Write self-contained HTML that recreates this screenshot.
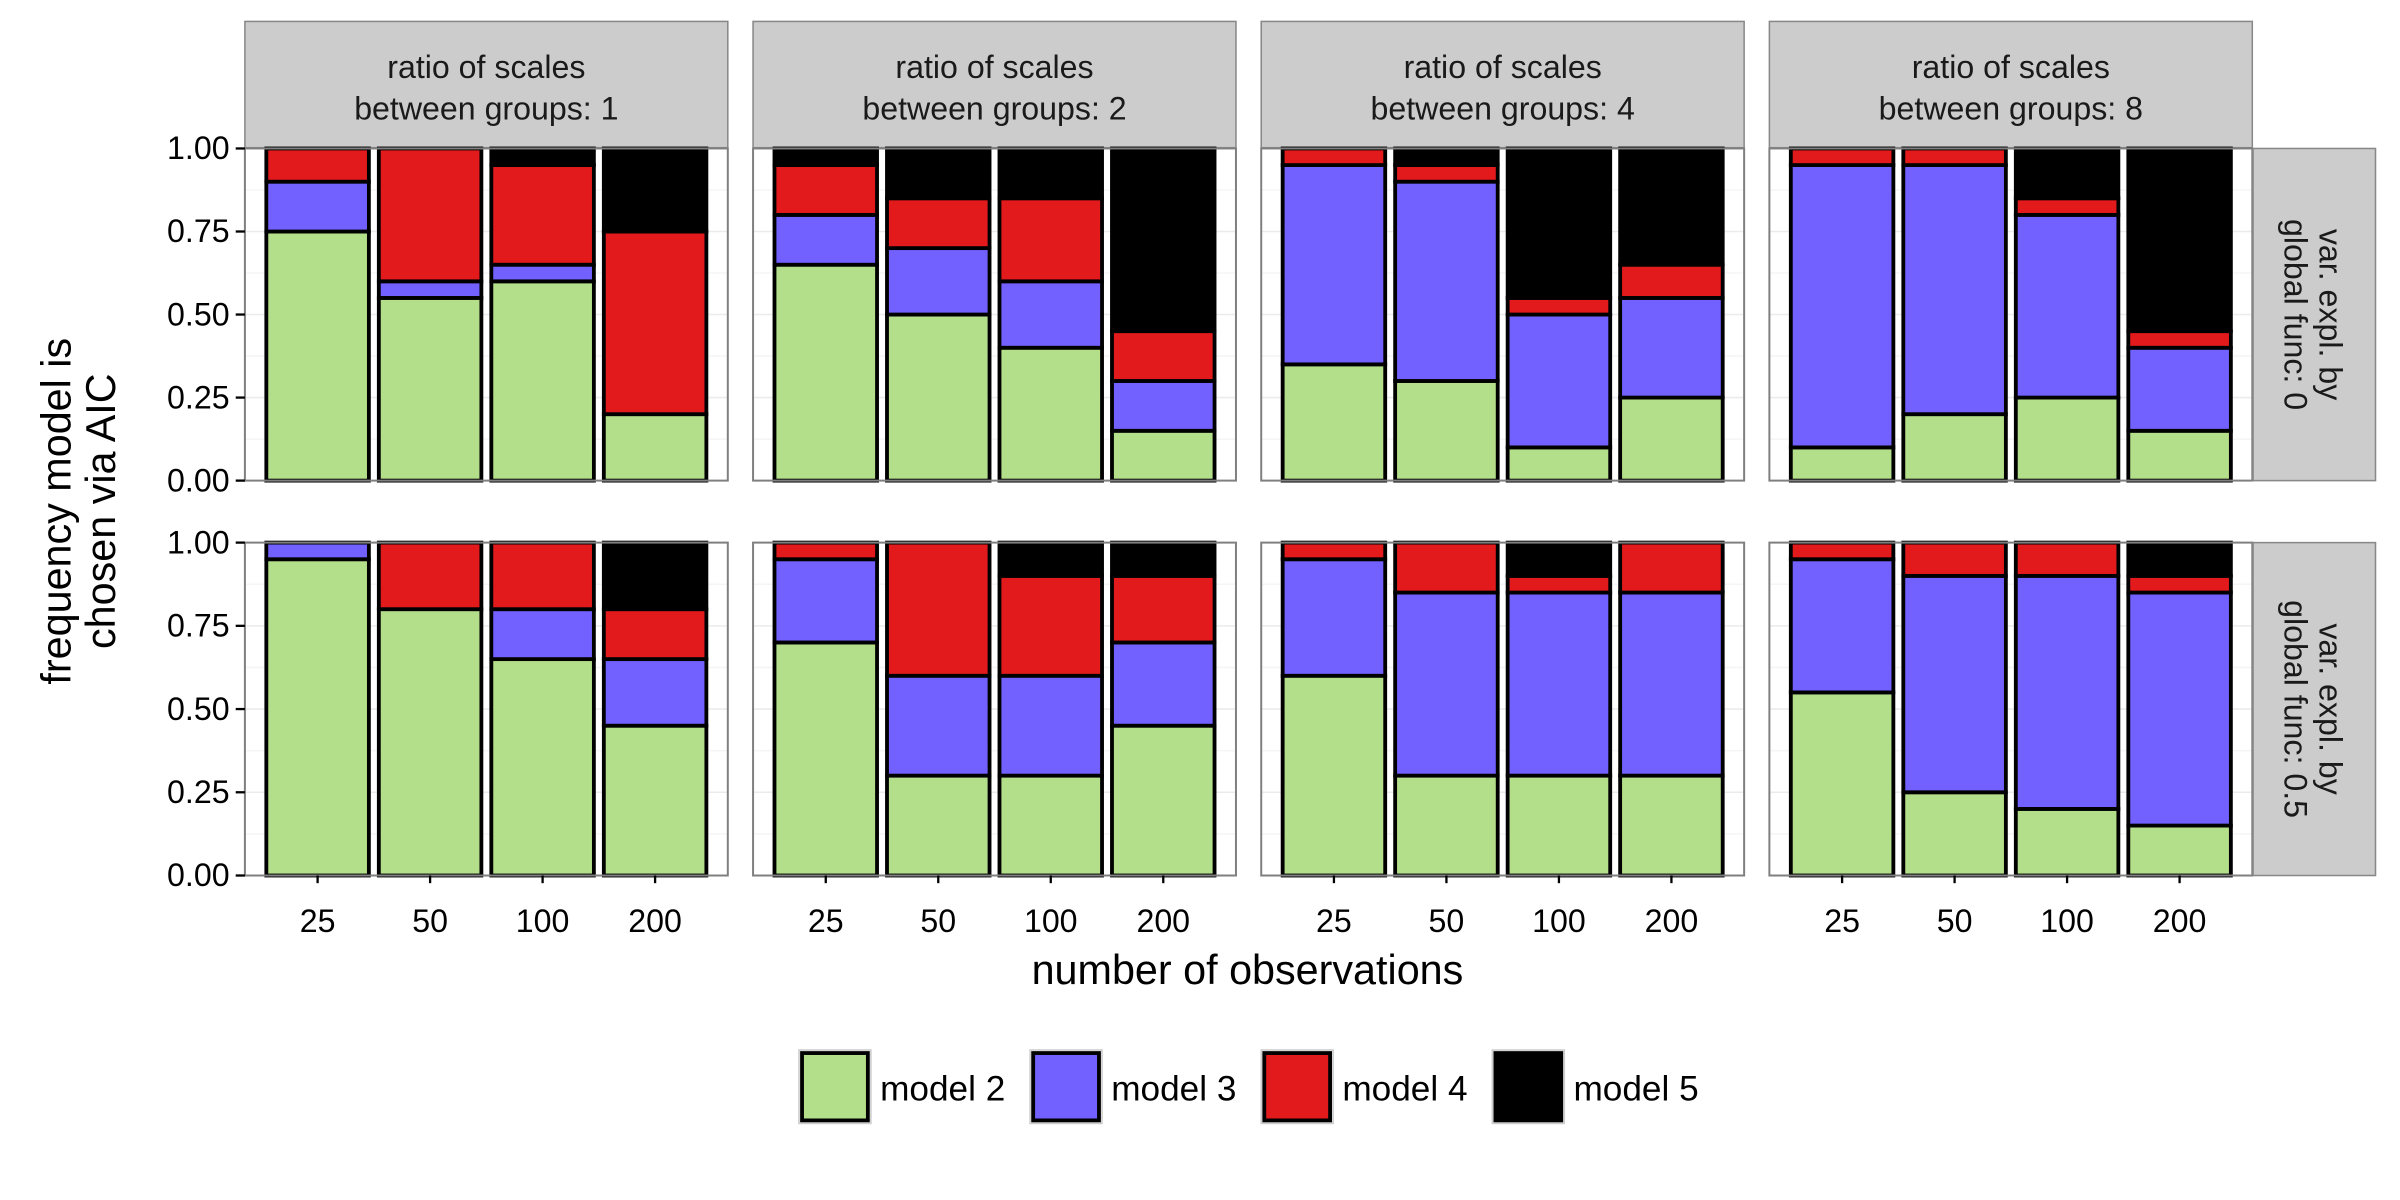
<!DOCTYPE html>
<html><head><meta charset="utf-8">
<style>html,body{margin:0;padding:0;background:#fff}svg{display:block}text{font-family:"Liberation Sans",Arial,sans-serif}</style>
</head><body>
<svg id="chart" width="2400" height="1200" viewBox="0 0 1568 784" xmlns="http://www.w3.org/2000/svg">
</svg>
<script>
const categories = ["25","50","100","200"];
const colLabels = ["1","2","4","8"];
const rowLabels = ["0","0.5"];
const models = ["model 2","model 3","model 4","model 5"];
const colors = ["#b3df8a","#7261ff","#e31a1c","#000000"];
const yTicks = [0,0.25,0.5,0.75,1];
const yTickLabels = ["0.00","0.25","0.50","0.75","1.00"];
// values[row][col][category] = [m2,m3,m4,m5]
const row0col0 = [[.75,.15,.10,0],[.55,.05,.40,0],[.60,.05,.30,.05],[.20,0,.55,.25]];
const row0col1 = [[.65,.15,.15,.05],[.50,.20,.15,.15],[.40,.20,.25,.15],[.15,.15,.15,.55]];
const row0col2 = [[.35,.60,.05,0],[.30,.60,.05,.05],[.10,.40,.05,.45],[.25,.30,.10,.35]];
const row0col3 = [[.10,.85,.05,0],[.20,.75,.05,0],[.25,.55,.05,.15],[.15,.25,.05,.55]];
const row1col0 = [[.95,.05,0,0],[.80,0,.20,0],[.65,.15,.20,0],[.45,.20,.15,.20]];
const row1col1 = [[.70,.25,.05,0],[.30,.30,.40,0],[.30,.30,.30,.10],[.45,.25,.20,.10]];
const row1col2 = [[.60,.35,.05,0],[.30,.55,.15,0],[.30,.55,.05,.10],[.30,.55,.15,0]];
const row1col3 = [[.55,.40,.05,0],[.25,.65,.10,0],[.20,.70,.10,0],[.15,.70,.05,.10]];
const values = [[row0col0,row0col1,row0col2,row0col3],[row1col0,row1col1,row1col2,row1col3]];

const NS="http://www.w3.org/2000/svg";
const svg=document.getElementById('chart');
function el(tag,attrs,parent){const e=document.createElementNS(NS,tag);for(const k in attrs)e.setAttribute(k,attrs[k]);(parent||svg).appendChild(e);return e;}
const panelW=315.5, pitch=332, left0=160;
const rowTop=[97,354.5], rowBot=[314,572];
const stripTop=14;
function xCenter(c,i){return left0+c*pitch+47.5+i*73.5;}
function yScale(r,v){return rowBot[r]-v*(rowBot[r]-rowTop[r]);}
const barW=67;

for(let c=0;c<4;c++){
  const px=left0+c*pitch;
  const s=el('rect',{x:px,y:stripTop,width:panelW,height:rowTop[0]-stripTop-0.5,fill:'#cccccc',stroke:'#888',"stroke-width":1});
  
  
  const t=el('text',{x:px+panelW/2,y:51,"text-anchor":"middle","font-size":21,fill:'#1a1a1a'});
  
  
  t.textContent='ratio of scales';
  const t2=el('text',{x:px+panelW/2,y:78,"text-anchor":"middle","font-size":21,fill:'#1a1a1a'});
  
  
  t2.textContent='between groups: '+colLabels[c];
  for(let r=0;r<2;r++){
    const g=el('g',{});
    
    
    el('rect',{x:px,y:rowTop[r],width:panelW,height:rowBot[r]-rowTop[r],fill:'#fff'},g);
    for(let v=0.125;v<1;v+=0.125){
      el('line',{x1:px,x2:px+panelW,y1:yScale(r,v),y2:yScale(r,v),stroke:(Math.abs(v*4-Math.round(v*4))<1e-6)?'#ebebeb':'#f5f5f5',"stroke-width":1},g);
    }
    for(let i=0;i<4;i++){
      let cum=0;
      const vals=values[r][c][i];
      for(let m=0;m<4;m++){
        const v=vals[m]; if(v<=0){continue;}
        const y1=yScale(r,cum+v), y0=yScale(r,cum);
        const b=el('rect',{x:xCenter(c,i)-barW/2,y:y1,width:barW,height:y0-y1,fill:colors[m],stroke:'#000',"stroke-width":2.5},g);
        
        
        cum+=v;
      }
    }
    el('rect',{x:px,y:rowTop[r],width:panelW,height:rowBot[r]-rowTop[r],fill:'none',stroke:'#7f7f7f',"stroke-width":1.3},g);
  }
  for(let i=0;i<4;i++){
    const x=xCenter(c,i);
    el('line',{x1:x,x2:x,y1:rowBot[1],y2:rowBot[1]+5,stroke:'#000',"stroke-width":1.5});
    const xt=el('text',{x:x,y:609,"text-anchor":"middle","font-size":21,fill:'#000'});
    
    
    xt.textContent=categories[i];
  }
}
for(let r=0;r<2;r++){
  for(let k=0;k<yTicks.length;k++){
    const y=yScale(r,yTicks[k]);
    el('line',{x1:154,x2:160,y1:y,y2:y,stroke:'#000',"stroke-width":1.5});
    const yt=el('text',{x:150,y:y+7,"text-anchor":"end","font-size":21,fill:'#000'});
    
    
    yt.textContent=yTickLabels[k];
  }
  const rx=left0+3*pitch+panelW;
  const rs=el('rect',{x:rx+0.5,y:rowTop[r],width:80,height:rowBot[r]-rowTop[r],fill:'#cccccc',stroke:'#888',"stroke-width":1});
  
  
  const cy=(rowTop[r]+rowBot[r])/2;
  const a=el('text',{x:0,y:0,"text-anchor":"middle","font-size":21,fill:'#1a1a1a',transform:`translate(${rx+44},${cy}) rotate(90)`});
  
  
  a.textContent='var. expl. by';
  const b=el('text',{x:0,y:0,"text-anchor":"middle","font-size":21,fill:'#1a1a1a',transform:`translate(${rx+21},${cy}) rotate(90)`});
  
  
  b.textContent='global func: '+rowLabels[r];
}
const xtitle=el('text',{x:815,y:643,"text-anchor":"middle","font-size":27,fill:'#000'});


xtitle.textContent='number of observations';
const yt1=el('text',{x:0,y:0,"text-anchor":"middle","font-size":27,fill:'#000',transform:'translate(46,334) rotate(-90)'});


yt1.textContent='frequency model is';
const yt2=el('text',{x:0,y:0,"text-anchor":"middle","font-size":27,fill:'#000',transform:'translate(75,334) rotate(-90)'});


yt2.textContent='chosen via AIC';
const legX=[522,673,824,975];
for(let m=0;m<4;m++){
  const g=el('g',{});
  
  
  el('rect',{x:legX[m],y:686,width:47,height:48,fill:'#f2f2f2',stroke:'#ccc',"stroke-width":1},g);
  el('rect',{x:legX[m]+2,y:688,width:43,height:44,fill:colors[m],stroke:'#000',"stroke-width":2.5},g);
  const lt=el('text',{x:legX[m]+53,y:719,"font-size":23,fill:'#000'},g);
  lt.textContent=models[m];
}
</script>
</body></html>
